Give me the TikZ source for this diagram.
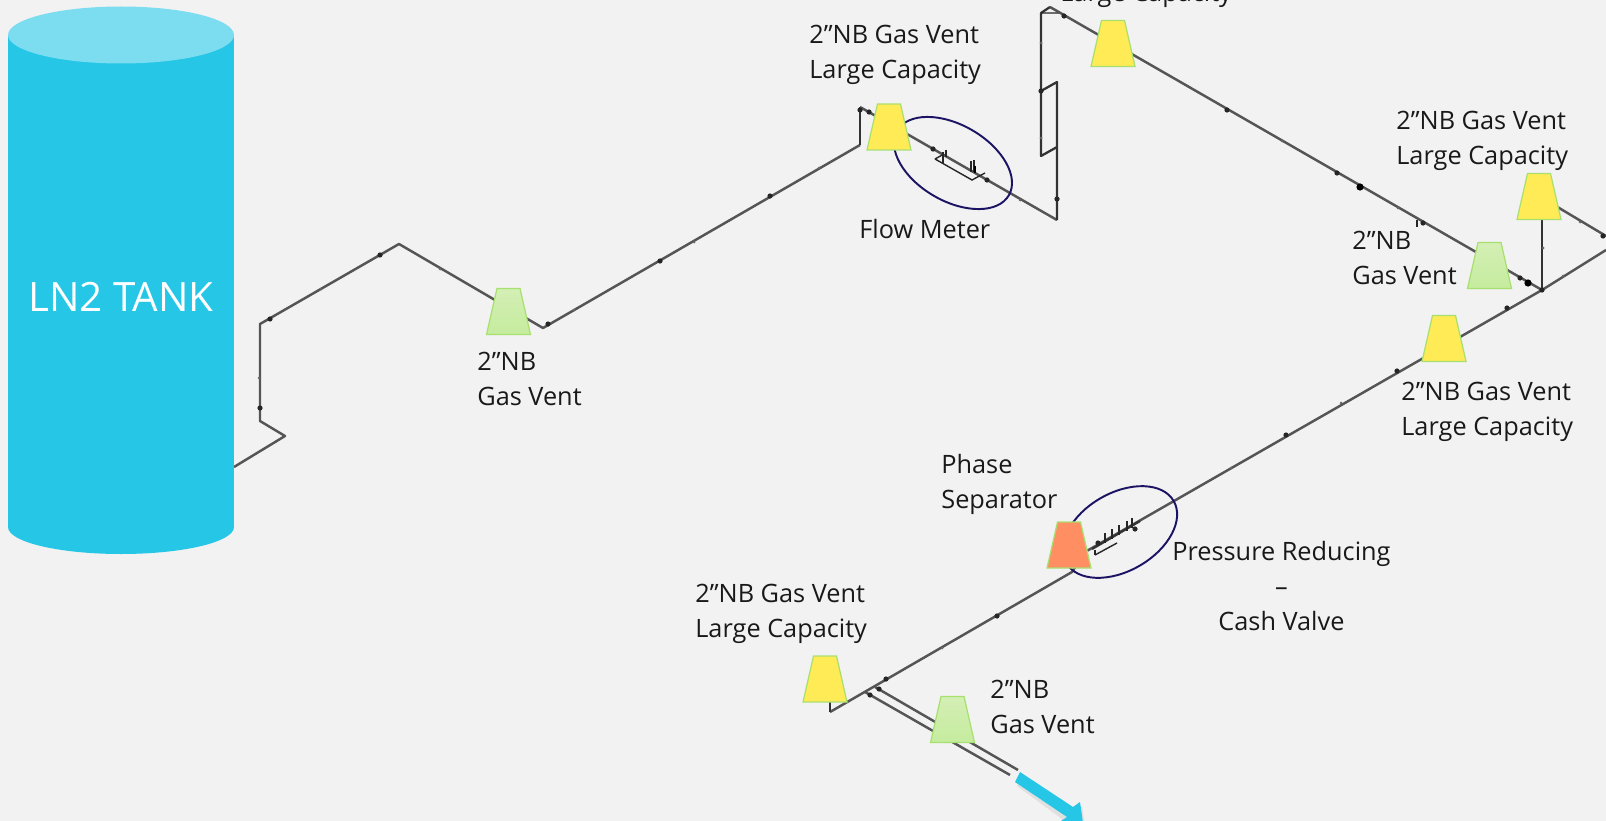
\documentclass[tikz,border=0pt]{standalone}
\usepackage{fontspec}
\setmainfont{Open Sans}
\definecolor{paper}{HTML}{F2F2F2}
\definecolor{tankblue}{HTML}{25C6E6}
\definecolor{tanktop}{HTML}{7DDDF0}
\definecolor{rim}{HTML}{A8E070}
\definecolor{ventyellow}{HTML}{FFEB55}
\definecolor{ventorange}{HTML}{FF8F63}
\definecolor{ventgreenA}{HTML}{D4EFB5}
\definecolor{ventgreenB}{HTML}{C5EC9E}
\definecolor{ringblue}{HTML}{1B1464}
\definecolor{pipegrey}{HTML}{555555}
\usetikzlibrary{calc, positioning, shapes.geometric}

\begin{document}
\begin{tikzpicture}[
  x=0.02cm, y=-0.02cm,
  pipe/.style={draw=pipegrey, line width=1.4pt, line join=round},
  riser/.style={draw=black!80, line width=1.3pt, line join=round},
  fitting/.style={draw=black!85, line width=0.8pt},
  ring/.style={draw=ringblue, line width=1.1pt},
  ventlarge/.style={fill=ventyellow},
  ventgas/.style={top color=ventgreenA, bottom color=ventgreenB},
  ventphase/.style={fill=ventorange},
  pics/vent/.style={code={
    \path[draw=rim, line width=0.7pt, #1] (-22,23) -- (-11.5,-23) -- (11.5,-23) -- (22,23) -- cycle;
  }},
  tag/.style={font=\fontsize{14.4}{19.84}\selectfont, text=black!90, align=left,
              anchor=west, inner sep=0pt},
]
\clip (0,0) rectangle (1606,821);
\fill[paper] (0,0) rectangle (1606,821);

% pipe run
\draw[pipe] (234,467) -- (285,436) -- (260,421) -- (260,324) -- (399,244)
  -- (543,328) -- (860,145);
\draw[riser] (860,145) -- (860,107);
\draw[pipe] (860,107) -- (1057,220);
\draw[riser] (1057,220) -- (1057,82) -- (1041,91);
\draw[riser] (1057,147) -- (1041,156) -- (1041,13) -- (1050,7);
\draw[fitting] (1041,13) -- (1060,13) -- (1050,7);
\draw[pipe] (1050,7) -- (1542,290);
\draw[riser] (1542,200) -- (1542,290);
\draw[pipe] (1539,196) -- (1606,236);
\draw[pipe] (1606,250) -- (1542,290) -- (1085,552) -- (1072,572) -- (830,712);
\draw[riser] (830,712) -- (830,700);
\draw[pipe] (875,687) -- (1018,770);
\draw[pipe] (865,692) -- (1010,775);

% flow meter bypass
\draw[fitting] (946,150) -- (946,157) (943,152) -- (943,163);
\draw[fitting] (935,159) -- (972,180) -- (985,173) (935,159) -- (944,154);
\draw[fitting] (971,161) -- (971,172) (974,160) -- (974,172);
\draw[line width=1.4pt] (975,166) -- (975,173);

% pressure reducing bypass
\draw[riser] (1092,549) -- (1140,521);
\draw[fitting] (1095,555) -- (1117,543);
\draw[fitting] (1095,550) -- (1095,555);
\foreach \px/\py in {1105/538, 1112/534, 1119/530, 1127/526, 1132/523}
  \draw[fitting] (\px,\py-5) -- (\px,\py+5);

% small fittings along the pipe
\foreach \px/\py in {270/319, 380/255, 260/408, 548/324, 770/196, 660/261, 860/110,
  869/112, 933/149, 987/180, 1057/199, 1041/91, 1064/16, 1227/110, 1337/173,
  1423/223, 1520/278, 1542/290, 1603/236, 1507/308, 1397/371, 1286/435,
  997/616, 886/679, 879/689, 870/695, 1098/543, 1135/529}
  \fill[black!85] (\px,\py) circle (2.6);
\foreach \px/\py in {321/289, 440/269, 259/378, 574/310, 694/242, 819/168, 1020/200,
  1041/43, 1041/138, 1282/141, 1398/208, 1543/248, 1580/222, 1563/276, 1341/403,
  1231/468, 942/648}
  \fill[black!60] (\px,\py) circle (1.5);
\fill[black] (1360,187) circle (3.6);
\fill[black] (1528,283) circle (3.6);
\draw[fitting] (1417,220) -- (1417,227);

% rings
\draw[ring, rotate around={-30:(953,163)}] (953,163) ellipse (64.5 and 38);
\draw[ring, rotate around={30:(1120,532)}] (1120,532) ellipse (62 and 39);

% tank
\fill[tankblue] (8,35) rectangle (234,527);
\fill[tankblue] (121,527) ellipse (113 and 27);
\fill[tanktop] (121,35) ellipse (113 and 28.5);
\node[font=\fontsize{23}{28}\selectfont, text=white, inner sep=0pt] (tank) at (121,297) {LN2 TANK};

% vents
\path (508.5,311.5) pic (gasA) {vent=ventgas};
\path (889,127) pic (largeA) {vent=ventlarge};
\path (1113,43.5) pic (largeB) {vent=ventlarge};
\path (1539,196.5) pic (largeC) {vent=ventlarge};
\path (1489.5,265.5) pic (gasB) {vent=ventgas};
\path (1444,338.5) pic (largeD) {vent=ventlarge};
\path (1069,545) pic (phase) {vent=ventphase};
\path (825,679) pic (largeE) {vent=ventlarge};
\path (952.5,719.5) pic (gasC) {vent=ventgas};

% outlet arrow
\fill[black!12] (1022,776) -- (1075,811) -- (1082,806) -- (1086,834) -- (1057,829) -- (1062,819) -- (1017,786) -- cycle;
\fill[tankblue] (1020,772) -- (1073,807) -- (1080,802) -- (1084,830) -- (1055,825) -- (1067,817) -- (1015,782) -- cycle;

% labels
\node[tag] (labelA) at (477,379) {2”NB\\Gas Vent};
\node[tag] (labelB) at (809,55) {2”NB Gas Vent\\Large Capacity};
\node[tag] (labelC) at (859,229) {Flow Meter};
\node[tag] (labelD) at (1060,-5) {Large Capacity};
\node[tag] (labelE) at (1396,141) {2”NB Gas Vent\\Large Capacity};
\node[tag] (labelF) at (1352,258) {2”NB\\Gas Vent};
\node[tag] (labelG) at (1401,411.6) {2”NB Gas Vent\\Large Capacity};
\node[tag] (labelH) at (941,484.5) {Phase\\Separator};
\node[tag, align=center] (labelI) at (1172,586) {Pressure Reducing\\–\\Cash Valve};
\node[tag] (labelJ) at (695,614) {2”NB Gas Vent\\Large Capacity};
\node[tag] (labelK) at (990,707) {2”NB\\Gas Vent};
\end{tikzpicture}
\end{document}
